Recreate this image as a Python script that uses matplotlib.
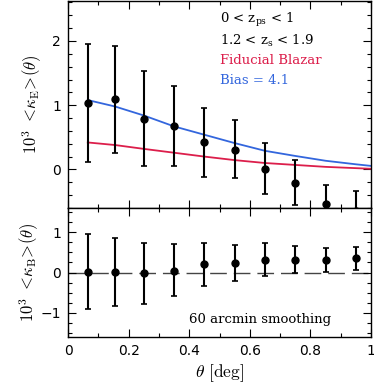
import numpy as np
import matplotlib
matplotlib.use('Agg')
from matplotlib import pyplot as plt
from matplotlib.ticker import MultipleLocator

plt.rcParams['mathtext.fontset'] = 'cm'
plt.rcParams['font.family'] = 'DejaVu Sans'

# Data
theta = [0.065, 0.155, 0.25, 0.35, 0.45, 0.55, 0.65, 0.75, 0.85, 0.95]

kE = [1.03, 1.09, 0.79, 0.67, 0.42, 0.31, 0.005, -0.21, -0.54, -0.65]
kE_hi = [1.96, 1.92, 1.53, 1.30, 0.96, 0.77, 0.41, 0.14, -0.24, -0.34]
kE_lo = [0.11, 0.26, 0.05, 0.05, -0.12, -0.14, -0.38, -0.55, -0.84, -0.96]

kB = [0.01, 0.01, -0.02, 0.05, 0.20, 0.23, 0.32, 0.32, 0.32, 0.36]
kB_hi = [0.95, 0.85, 0.73, 0.70, 0.74, 0.69, 0.72, 0.66, 0.62, 0.64]
kB_lo = [-0.91, -0.83, -0.77, -0.58, -0.34, -0.22, -0.08, -0.02, 0.02, 0.07]

curve_x = [0.065, 0.155, 0.25, 0.35, 0.45, 0.55, 0.65, 0.75, 0.85, 0.95, 1.0]
blazar = [0.42, 0.38, 0.32, 0.26, 0.20, 0.145, 0.10, 0.07, 0.04, 0.02, 0.01]
bias = [1.08, 0.98, 0.84, 0.67, 0.54, 0.41, 0.29, 0.21, 0.135, 0.08, 0.055]

red = '#dc1e4b'
blue = '#3366dd'
serif = ['DejaVu Serif']

fig = plt.figure(figsize=(3.74, 3.88), dpi=100)
ax1 = fig.add_axes([0.182, 0.464, 0.810, 0.533])
ax2 = fig.add_axes([0.182, 0.131, 0.810, 0.333], sharex=ax1)

def style(ax):
    ax.tick_params(which='both', direction='in', top=True, right=True, labelsize=10, width=0.8)
    ax.tick_params(which='major', length=6, pad=5)
    ax.tick_params(which='minor', length=3)
    for s in ax.spines.values():
        s.set_linewidth(1.0)

# Top panel: E mode
e1 = np.array(kE) - np.array(kE_lo)
e2 = np.array(kE_hi) - np.array(kE)
ax1.errorbar(theta, kE, yerr=[e1, e2], fmt='o', color='black', ms=5,
             elinewidth=1.5, capsize=2, capthick=1.2, zorder=3)
ax1.plot(curve_x, blazar, color=red, lw=1.3)
ax1.plot(curve_x, bias, color=blue, lw=1.3)
ax1.set_xlim(0, 1)
ax1.set_ylim(-0.6, 2.62)
ax1.xaxis.set_major_locator(MultipleLocator(0.2))
ax1.xaxis.set_minor_locator(MultipleLocator(0.1))
ax1.yaxis.set_major_locator(MultipleLocator(1))
ax1.yaxis.set_minor_locator(MultipleLocator(0.2))
style(ax1)
ax1.tick_params(labelbottom=False)
ax1.set_ylabel(r'$10^3\ <\!\kappa_{\rm E}\!>\!(\theta)$', fontsize=12, labelpad=6)

tsize = 9.5
kw = dict(transform=ax1.transAxes, fontsize=tsize, family=serif, math_fontfamily='dejavuserif')
ax1.text(0.50, 0.895, r'0 < z$_{\rm ps}$ < 1', **kw)
ax1.text(0.50, 0.79, r'1.2 < z$_{\rm s}$ < 1.9', **kw)
ax1.text(0.50, 0.695, 'Fiducial Blazar', color=red, **kw)
ax1.text(0.50, 0.60, 'Bias = 4.1', color=blue, **kw)

# Bottom panel: B mode
b1 = np.array(kB) - np.array(kB_lo)
b2 = np.array(kB_hi) - np.array(kB)
ax2.axhline(0, color='#444444', lw=1.0, dashes=(12, 5), zorder=1)
ax2.errorbar(theta, kB, yerr=[b1, b2], fmt='o', color='black', ms=5,
             elinewidth=1.5, capsize=2, capthick=1.2, zorder=3)
ax2.set_ylim(-1.6, 1.6)
ax2.yaxis.set_major_locator(MultipleLocator(1))
ax2.yaxis.set_minor_locator(MultipleLocator(0.25))
style(ax2)
ax2.set_xticks([0, 0.2, 0.4, 0.6, 0.8, 1.0])
ax2.set_xticklabels(['0', '0.2', '0.4', '0.6', '0.8', '1'])
ax2.set_xlabel(r'$\theta\ [\rm deg]$', fontsize=12.5, labelpad=3)
ax2.set_ylabel(r'$10^3\ <\!\kappa_{\rm B}\!>\!(\theta)$', fontsize=12, labelpad=0)
ax2.text(0.40, -1.25, '60 arcmin smoothing', fontsize=tsize, family=serif)

plt.savefig('out.png', dpi=100)
